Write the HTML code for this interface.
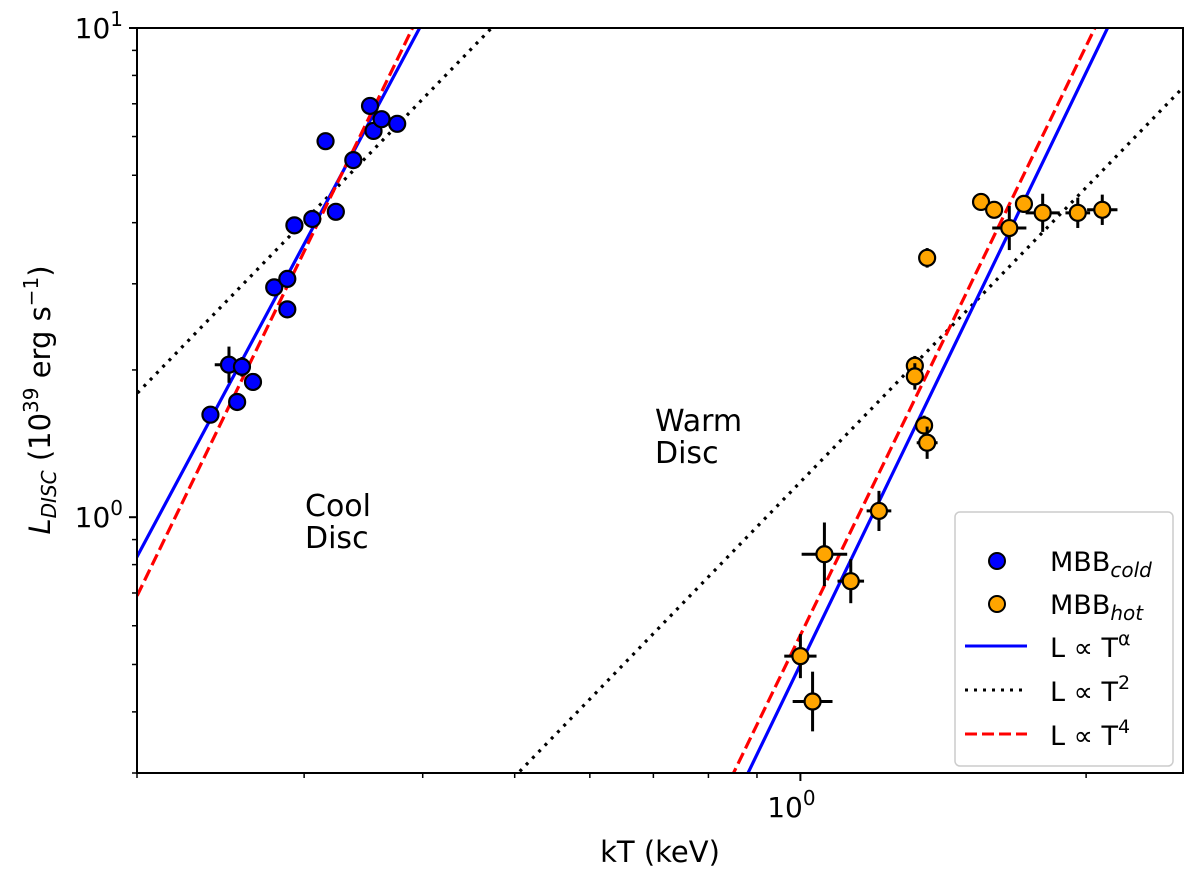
<!DOCTYPE html>
<html><head><meta charset="utf-8"><style>
html,body{margin:0;background:#fff;width:1200px;height:871px;overflow:hidden;position:relative;}
svg{display:block;font-family:"DejaVu Sans","Liberation Sans",sans-serif;}
</style></head><body>
<svg id="chart" width="1200" height="871" viewBox="0 0 1200 871" xmlns="http://www.w3.org/2000/svg" style="position:absolute;left:0;top:0;"></svg>
<script>
const coldX=[0.239,0.250,0.255,0.258,0.265,0.279,0.288,0.288,0.293,0.306,0.324,0.338,0.316,0.355,0.352,0.362,0.376];
const coldY=[1.62,2.05,1.72,2.03,1.89,2.95,2.66,3.07,3.95,4.07,4.21,5.37,5.87,6.16,6.93,6.51,6.37];
const coldXErr=[0.003,0.015,0.003,0.005,0.003,0.003,0.003,0.003,0.003,0.003,0.003,0.003,0.003,0.003,0.003,0.003,0.003];
const coldYErr=[0.012,0.037,0.012,0.02,0.008,0.008,0.01,0.008,0.01,0.006,0.01,0.008,0.006,0.008,0.006,0.006,0.006];
const hotX=[1.55,1.60,1.72,1.66,1.80,1.96,2.08,1.36,1.32,1.32,1.35,1.36,1.21,1.06,1.13,1.00,1.03];
const hotY=[4.41,4.25,4.37,3.90,4.19,4.19,4.25,3.39,2.04,1.94,1.54,1.42,1.03,0.84,0.74,0.52,0.42];
const hotXErr=[0.005,0.003,0.008,0.018,0.018,0.013,0.016,0.002,0.006,0.002,0.004,0.011,0.013,0.024,0.014,0.017,0.021];
const hotYErr=[0.016,0.008,0.016,0.045,0.039,0.031,0.031,0.02,0.02,0.027,0.02,0.033,0.041,0.065,0.045,0.045,0.061];
// power-law lines: [normalisation at kT=refX, exponent]
const fitRefX=[0.2,1.0];
const blueNorm=[0.83,0.50], blueAlpha=[3.63,4.02];
const redNorm=[0.69,0.574], redAlpha=[4,4];
const blackNorm=[1.79,1.18], blackAlpha=[2,2];
const xMajor=[1], xMajorLabels=["10","0"];
const xMinor=[0.2,0.3,0.4,0.5,0.6,0.7,0.8,0.9,2];
const yMajor=[1,10], yMajorLabels=[["10","0"],["10","1"]];
const yMinor=[0.3,0.4,0.5,0.6,0.7,0.8,0.9,2,3,4,5,6,7,8,9];

const L=137,R=1183,T=28,B=773;
const xmin=0.2,xmax=2.53,ymin=0.3,ymax=10;
const xs=v=>L+(Math.log10(v)-Math.log10(xmin))/(Math.log10(xmax)-Math.log10(xmin))*(R-L);
const ys=v=>B-(Math.log10(v)-Math.log10(ymin))/(Math.log10(ymax)-Math.log10(ymin))*(B-T);
const svg=document.getElementById('chart');
const NS="http://www.w3.org/2000/svg";
function mk(tag,attrs,parent){const e=document.createElementNS(NS,tag);for(const k in attrs)e.setAttribute(k,attrs[k]);(parent||svg).appendChild(e);return e;}

const defs=mk('defs',{});
const cp=mk('clipPath',{id:'clip'},defs);mk('rect',{x:L,y:T,width:R-L,height:B-T},cp);
const plot=mk('g',{'clip-path':'url(#clip)'});



function powerLine(norm,alpha,refX,style,name){
  const x0=0.15,x1=3;
  const l=mk('line',{x1:xs(x0),y1:ys(norm*Math.pow(x0/refX,alpha)),x2:xs(x1),y2:ys(norm*Math.pow(x1/refX,alpha))},plot);
  for(const k in style)l.setAttribute(k,style[k]);
  
  
}
const blackStyle={stroke:'#000','stroke-width':3.2,'stroke-dasharray':'3 6'};
const redStyle={stroke:'#f00','stroke-width':3.2,'stroke-dasharray':'12 5'};
const blueStyle={stroke:'#00f','stroke-width':3.2};
for(let i=0;i<2;i++){
  powerLine(blackNorm[i],blackAlpha[i],fitRefX[i],blackStyle,'t2-line-'+i);
  powerLine(blueNorm[i],blueAlpha[i],fitRefX[i],blueStyle,'talpha-line-'+i);
  powerLine(redNorm[i],redAlpha[i],fitRefX[i],redStyle,'t4-line-'+i);
}
function points(X,Y,XE,YE,fill,name){
  for(let i=0;i<X.length;i++){
    const cx=xs(X[i]),cy=ys(Y[i]);
    const x1=xs(X[i]*Math.pow(10,-XE[i])),x2=xs(X[i]*Math.pow(10,XE[i]));
    const y1=ys(Y[i]*Math.pow(10,-YE[i])),y2=ys(Y[i]*Math.pow(10,YE[i]));
    const g=mk('g',{},plot);
    
    
    mk('line',{x1:x1,y1:cy,x2:x2,y2:cy,stroke:'#000','stroke-width':3},g);
    mk('line',{x1:cx,y1:y1,x2:cx,y2:y2,stroke:'#000','stroke-width':3},g);
    mk('circle',{cx:cx,cy:cy,r:8,fill:fill,stroke:'#000','stroke-width':2.2},g);
  }
}
points(coldX,coldY,coldXErr,coldYErr,'#0000ff','mbb-cold');
points(hotX,hotY,hotXErr,hotYErr,'#ffa500','mbb-hot');

const fr=mk('rect',{x:L,y:T,width:R-L,height:B-T,fill:'none',stroke:'#000','stroke-width':2});


xMajor.forEach((v,i)=>{
  mk('line',{x1:xs(v),y1:B,x2:xs(v),y2:B+8,stroke:'#000','stroke-width':2});
  const t=mk('text',{x:xs(v)-9,y:B+44,'font-size':28,'text-anchor':'middle'});
  
  
  t.textContent=xMajorLabels[0];
  const s=mk('tspan',{dy:-12,'font-size':20},t);s.textContent=xMajorLabels[1];
});
xMinor.forEach(v=>mk('line',{x1:xs(v),y1:B,x2:xs(v),y2:B+5,stroke:'#000','stroke-width':1.5}));
yMajor.forEach((v,i)=>{
  mk('line',{x1:L-8,y1:ys(v),x2:L,y2:ys(v),stroke:'#000','stroke-width':2});
  const t=mk('text',{x:L-14,y:ys(v)+10,'font-size':28,'text-anchor':'end'});
  
  
  t.textContent=yMajorLabels[i][0];
  const s=mk('tspan',{dy:-12,'font-size':20},t);s.textContent=yMajorLabels[i][1];
});
yMinor.forEach(v=>mk('line',{x1:L-5,y1:ys(v),x2:L,y2:ys(v),stroke:'#000','stroke-width':1.5}));
</script>
<svg width="1200" height="871" style="position:absolute;left:0;top:0;pointer-events:none;font-family:'DejaVu Sans','Liberation Sans',sans-serif;">
<text x="660" y="862" font-size="29" text-anchor="middle">kT (keV)</text>
<text transform="translate(50,400) rotate(-90)" font-size="29" text-anchor="middle"><tspan font-style="italic">L</tspan><tspan font-style="italic" font-size="20" dy="6">DISC</tspan><tspan dy="-6"> (10</tspan><tspan font-size="20" dy="-12">39</tspan><tspan dy="12"> erg s</tspan><tspan font-size="20" dy="-12">−1</tspan><tspan dy="12">)</tspan></text>
<g font-size="30"><text x="305" y="516">Cool</text><text x="305" y="548">Disc</text></g>
<g font-size="30"><text x="655" y="431">Warm</text><text x="655" y="463">Disc</text></g>
<g>
<rect x="955" y="512" width="218" height="254" rx="5" fill="#fff" fill-opacity="0.8" stroke="#ccc" stroke-width="1.5"/>
<g><circle cx="997" cy="561" r="8" fill="#0000ff" stroke="#000" stroke-width="2"/><text x="1050" y="571" font-size="27">MBB<tspan font-style="italic" font-size="20" dy="6">cold</tspan></text></g>
<g><circle cx="997" cy="604" r="8" fill="#ffa500" stroke="#000" stroke-width="2"/><text x="1050" y="614" font-size="27">MBB<tspan font-style="italic" font-size="20" dy="6">hot</tspan></text></g>
<g><line x1="965" y1="646" x2="1027" y2="646" stroke="#00f" stroke-width="3"/><text x="1050" y="657" font-size="27">L ∝ T<tspan font-size="19" dy="-12">α</tspan></text></g>
<g><line x1="965" y1="690" x2="1027" y2="690" stroke="#000" stroke-width="3" stroke-dasharray="3 6"/><text x="1050" y="701" font-size="27">L ∝ T<tspan font-size="19" dy="-12">2</tspan></text></g>
<g><line x1="965" y1="734" x2="1027" y2="734" stroke="#f00" stroke-width="3" stroke-dasharray="12 5"/><text x="1050" y="745" font-size="27">L ∝ T<tspan font-size="19" dy="-12">4</tspan></text></g>
</g>
</svg>
</body></html>
